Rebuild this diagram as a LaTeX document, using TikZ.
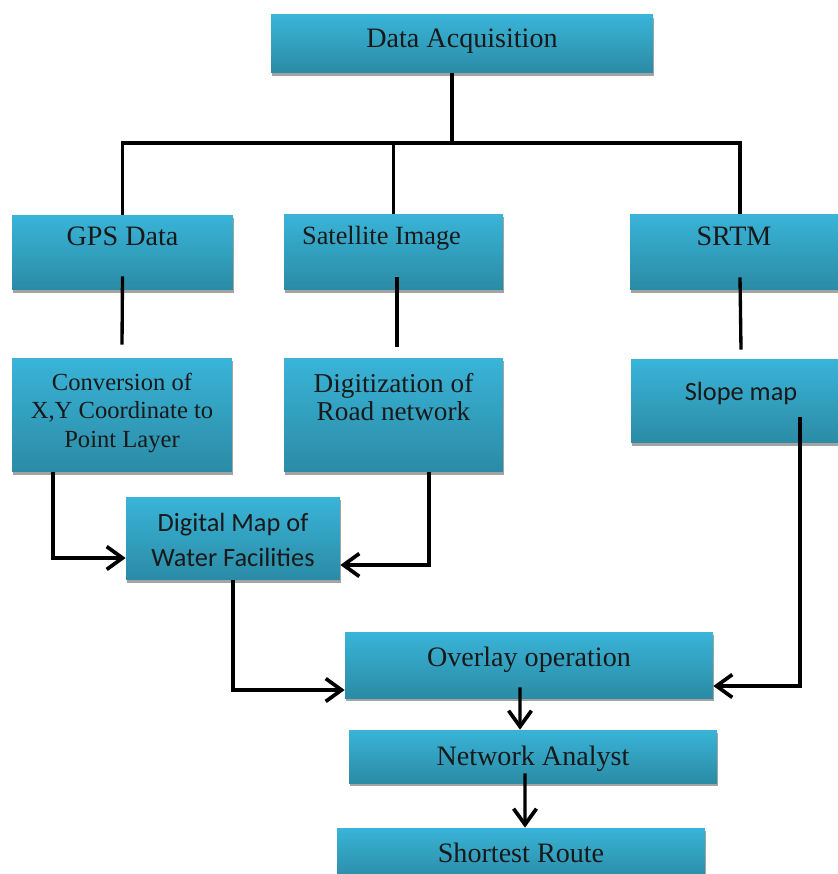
\documentclass[tikz,border=0pt]{standalone}
\usepackage{fontspec}
\setmainfont{Liberation Serif}
\newfontfamily\calibri{Carlito}
\usetikzlibrary{arrows.meta}
\usetikzlibrary{shadows}
\definecolor{boxtop}{RGB}{57,180,216}
\definecolor{boxbot}{RGB}{43,139,165}
\tikzset{
	box/.style={
		rectangle,
		inner sep=0pt,
		top color=boxtop,
		bottom color=boxbot,
		drop shadow={shadow xshift=0.4pt, shadow yshift=-1.8pt, fill=black!40, opacity=.9},
	},
	txt/.style={
		inner sep=0pt,
		align=center,
		text=black!90,
		font=\fontsize{16}{16}\selectfont,
	},
	txtsans/.style={
		txt,
		font=\calibri\fontsize{15}{19.8}\selectfont,
	},
	link/.style={
		line width=1.9pt,
	},
	arr/.style={
		link,
		-{Straight Barb[length=9pt,width=13pt,line width=2.1pt]}
	},
}

\begin{document}
\begin{tikzpicture}[x=0.02cm, y=-0.02cm]
	\useasboundingbox (0,0) rectangle (837,874);

	\node[box, minimum width=7.64cm, minimum height=1.16cm, label={[txt, below=0.28cm]north:Data Acquisition}] (acq) at (462,44) {};

	\node[box, minimum width=4.42cm, minimum height=1.5cm, label={[txt, below=0.24cm]north:GPS Data}] (gps) at (122.5,252.5) {};
	\node[box, minimum width=4.38cm, minimum height=1.52cm, label={[txt, font=\fontsize{15}{16}\selectfont, below=0.24cm, xshift=-0.24cm]north:Satellite Image}] (sat) at (393.5,252) {};
	\node[box, minimum width=4.4cm, minimum height=1.52cm, label={[txt, below=0.26cm, xshift=-0.12cm]north:SRTM}] (srtm) at (740,252) {};

	\node[box, minimum width=4.4cm, minimum height=2.28cm, label={[txt, font=\fontsize{14}{16.2}\selectfont, below=0.3cm]north:Conversion of\\X{,}Y Coordinate to\\Point Layer}] (conv) at (122,415) {};
	\node[box, minimum width=4.38cm, minimum height=2.28cm, label={[txt, font=\fontsize{15.5}{16}\selectfont, below=0.3cm]north:Digitization of\\Road network}] (digi) at (393.5,415) {};
	\node[box, minimum width=4.4cm, minimum height=1.68cm, label={[txtsans, below=0.46cm]north:Slope map}] (slope) at (741,401) {};

	\node[box, minimum width=4.28cm, minimum height=1.66cm, label={[txtsans, below=0.32cm]north:Digital Map of\\Water Facilities}] (dmap) at (233,538.5) {};

	\node[box, minimum width=7.36cm, minimum height=1.32cm, label={[txt, below=0.3cm]north:Overlay operation}] (overlay) at (529,665) {};
	\node[box, minimum width=7.36cm, minimum height=1.06cm, label={[txt, below=0.32cm]north:Network Analyst}] (network) at (533,756.5) {};
	\node[box, minimum width=7.36cm, minimum height=1.04cm, label={[txt, below=0.3cm]north:Shortest Route}] (shortest) at (521,854) {};

	% tree below the top box
	\coordinate (hub) at (452,143);
	\draw[link] (hub |- acq.south) -- (hub);
	\draw[link] (gps.north) -- (gps.north |- hub) -- (srtm.north |- hub) -- (srtm.north);
	\draw[link] (sat.north) -- (sat.north |- hub);

	\draw[link] ([yshift=0.28cm]gps.south) -- ([yshift=0.26cm]conv.north);
	\draw[link] ([xshift=0.07cm, yshift=0.26cm]sat.south) -- ([xshift=0.07cm, yshift=0.22cm]digi.north);
	\draw[link] ([yshift=0.26cm]srtm.south) -- ([yshift=0.18cm]slope.north);

	\draw[arr] ([xshift=-1.38cm]conv.south) |- ([yshift=-0.39cm]dmap.west);
	\draw[arr] ([xshift=0.71cm]digi.south) |- ([yshift=-0.53cm]dmap.east);
	\draw[arr] (dmap.south) |- ([yshift=-0.5cm]overlay.west);
	\draw[arr] ([xshift=1.18cm, yshift=-0.32cm]slope.center) |- ([yshift=-0.42cm]overlay.east);

	\draw[arr] ([xshift=-0.18cm, yshift=0.22cm]overlay.south) -- ([xshift=-0.26cm]network.north);
	\draw[arr] ([xshift=-0.16cm, yshift=0.2cm]network.south) -- ([xshift=0.08cm]shortest.north);
\end{tikzpicture}
\end{document}
